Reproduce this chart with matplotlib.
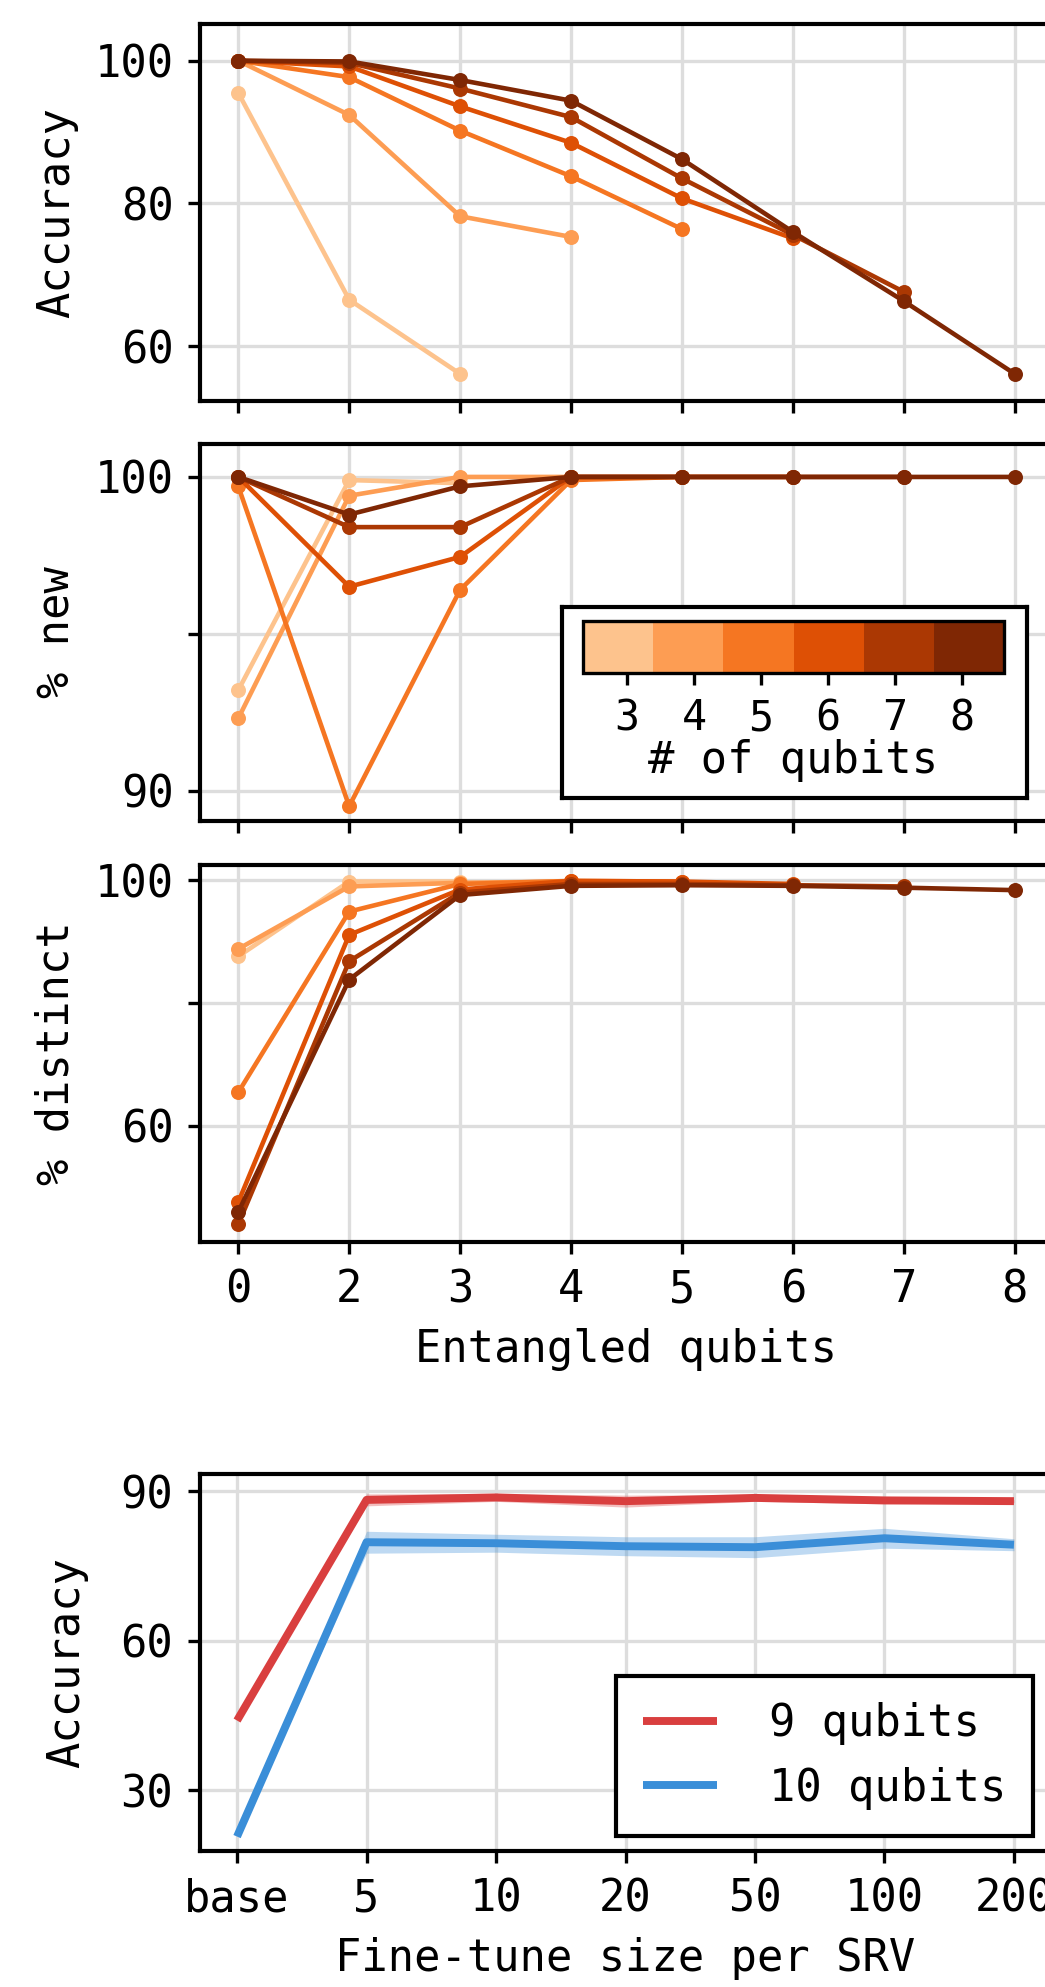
# Entanglement sweep (top three panels) + fine-tune size sweep (bottom panel)
import numpy as np
import matplotlib
matplotlib.use('Agg')
import matplotlib.pyplot as plt
from matplotlib.colors import ListedColormap, Normalize
from matplotlib.cm import ScalarMappable

# ---- data ----
ent_labels = ['0', '2', '3', '4', '5', '6', '7', '8']
qubits = [3, 4, 5, 6, 7, 8]

accuracy = [
    [95.5, 66.5, 56.1],
    [100, 92.4, 78.2, 75.3],
    [100, 97.7, 90.2, 83.8, 76.4],
    [100, 99.2, 93.6, 88.5, 80.7, 75.1],
    [100, 99.7, 96.1, 92.1, 83.5, 75.6, 67.6],
    [100, 99.9, 97.3, 94.4, 86.2, 76.0, 66.3, 56.1],
]
pct_new = [
    [93.2, 99.9, 99.8],
    [92.3, 99.4, 100, 100],
    [99.7, 89.5, 96.4, 99.9, 100],
    [100, 96.5, 97.45, 100, 100, 100],
    [100, 98.4, 98.4, 100, 100, 100, 100],
    [100, 98.8, 99.7, 100, 100, 100, 100, 100],
]
pct_distinct = [
    [87.6, 99.8, 99.8],
    [88.8, 99.0, 99.6, 99.8],
    [65.4, 94.9, 99.4, 99.9, 99.8],
    [47.5, 91.1, 98.5, 99.9, 99.8, 99.4],
    [43.9, 86.8, 98.0, 99.4, 99.4, 99.2, 99.0],
    [45.9, 83.8, 97.6, 99.1, 99.2, 99.1, 98.8, 98.4],
]

ft_labels = ['base', '5', '10', '20', '50', '100', '200']
acc_9q = [44.0, 88.3, 88.8, 88.05, 88.7, 88.2, 88.05]
sd_9q = [0, 1.2, 0.8, 1.2, 0.7, 0.7, 0.3]
acc_10q = [20.7, 79.8, 79.6, 79.0, 78.8, 80.6, 79.3]
sd_10q = [0, 2.2, 1.8, 1.9, 2.1, 2.0, 1.2]

# ---- style ----
plt.rcParams['font.family'] = 'DejaVu Sans Mono'
FS = 10.5
W, H = 1045, 1987
fig = plt.figure(figsize=(W / 300, H / 300), dpi=300)


def rect(l, t, r, b):
    return [l / W, 1 - b / H, (r - l) / W, (b - t) / H]


def style(ax):
    ax.grid(True, color='#dddddd', lw=0.8, zorder=0)
    ax.set_axisbelow(True)
    for s in ax.spines.values():
        s.set_linewidth(1.0)
        s.set_color('black')
    ax.tick_params(direction='out', length=2.8, width=0.8, labelsize=FS, pad=3.5)


colors = plt.cm.Oranges(np.linspace(0.3, 1.0, len(qubits)))

ax1 = fig.add_axes(rect(200, 24, 1053, 401))
ax2 = fig.add_axes(rect(200, 444, 1053, 821))
ax3 = fig.add_axes(rect(200, 865, 1053, 1242))
ax4 = fig.add_axes(rect(199.5, 1474, 1051.5, 1851))

for ax, data in [(ax1, accuracy), (ax2, pct_new), (ax3, pct_distinct)]:
    style(ax)
    for vals, c in zip(data, colors):
        ax.plot(range(len(vals)), vals, '-o', color=c, lw=1.1, ms=3.6, mew=0, zorder=3)
    ax.set_xlim(-0.345, 7.345)
    ax.set_xticks(range(len(ent_labels)))

ax1.set_xticklabels([])
ax2.set_xticklabels([])
ax3.set_xticklabels(ent_labels)

ax1.set_ylim(52.3, 105.15)
ax1.set_yticks([60, 80, 100])
ax1.set_ylabel('Accuracy', fontsize=FS)

ax2.set_ylim(89.03, 101.05)
ax2.set_yticks([90, 95, 100])
ax2.set_yticklabels(['90', '', '100'])
ax2.set_ylabel('% new', fontsize=FS)

ax3.set_ylim(41.0, 102.5)
ax3.set_yticks([60, 80, 100])
ax3.set_yticklabels(['60', '', '100'])
ax3.set_ylabel('% distinct', fontsize=FS)
ax3.set_xlabel('Entangled qubits', fontsize=FS)

# colour key box inside the "% new" panel
box = fig.add_axes(rect(562, 607, 1027, 798))
box.set_xticks([])
box.set_yticks([])
box.set_facecolor('white')
for s in box.spines.values():
    s.set_linewidth(1.0)
    s.set_color('black')

cax = fig.add_axes(rect(583, 621, 1004, 673))
sm = ScalarMappable(cmap=ListedColormap(colors), norm=Normalize(2.343, 8.627))
cb = fig.colorbar(sm, cax=cax, orientation='horizontal', ticks=qubits)
cb.outline.set_linewidth(0.8)
cax.tick_params(length=2.8, width=0.8, labelsize=10, pad=3.0)
cb.set_label('# of qubits', fontsize=FS, labelpad=0)

# bottom panel: fine-tune size
style(ax4)
x = np.arange(len(ft_labels))
for mean, sd, c, lab in [(acc_9q, sd_9q, '#d93f3f', '9 qubits'),
                         (acc_10q, sd_10q, '#3a8ed8', '10 qubits')]:
    mean = np.array(mean)
    sd = np.array(sd)
    ax4.fill_between(x, mean - sd, mean + sd, color=c, alpha=0.33, lw=0, zorder=2)
    ax4.plot(x, mean, color=c, lw=1.9, solid_capstyle='butt', label=lab, zorder=3)
ax4.set_xlim(-0.29, 6.29)
ax4.set_xticks(x)
ax4.set_xticklabels(ft_labels)
ax4.set_ylim(17.8, 93.5)
ax4.set_yticks([30, 60, 90])
ax4.set_ylabel('Accuracy', fontsize=FS, labelpad=7.7)
ax4.set_xlabel('Fine-tune size per SRV', fontsize=FS)
leg = ax4.legend(loc='lower right', bbox_to_anchor=(1033 / W, 1 - 1836 / H),
                 bbox_transform=fig.transFigure, borderaxespad=0, fontsize=FS,
                 fancybox=False, framealpha=1, edgecolor='black',
                 handlelength=1.7, handletextpad=1.2, labelspacing=0.5, borderpad=0.6)
leg.get_frame().set_linewidth(1.0)

fig.savefig('out.png', dpi=300)
